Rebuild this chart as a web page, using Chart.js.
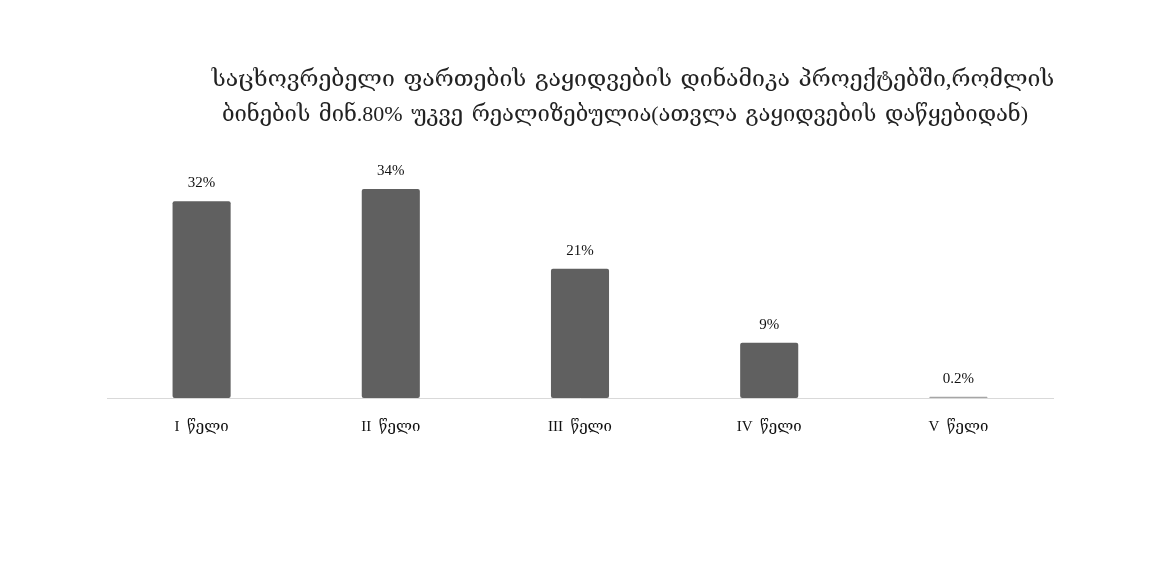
<!DOCTYPE html>
<html>
<head>
<meta charset="utf-8">
<script src="https://cdn.jsdelivr.net/npm/chart.js@4.4.1/dist/chart.umd.min.js"></script>
<style>
  html, body { margin: 0; padding: 0; background: #fff; }
  #wrap { position: relative; width: 1170px; height: 585px; }
  #title {
    position: absolute; left: 0; top: 61px; width: 1266px;
    text-align: center; font-family: "Liberation Serif", "DejaVu Serif", serif;
    font-size: 23px; line-height: 35px; word-spacing: 3px; color: #222;
  }
  #title span { font-size: 22px; margin-right: 16px; }
</style>
</head>
<body>
<div id="wrap">
  <div id="title">საცხოვრებელი ფართების გაყიდვების დინამიკა პროექტებში,რომლის<br><span>ბინების მინ.80% უკვე რეალიზებულია(ათვლა გაყიდვების დაწყებიდან)</span></div>
  <canvas id="chart" width="1170" height="585"></canvas>
</div>
<script>
/* --------------- Data --------------------- */
const years = ["I  წელი", "II  წელი", "III  წელი", "IV  წელი", "V  წელი"];
const shares = [32, 34, 21, 9, 0.2];
const barColors = ["#606060", "#606060", "#606060", "#606060", "#a6a6a6"];

const serif = '"Liberation Serif", "DejaVu Serif", serif';

/* --------------- Value labels above bars --------------------- */
const valueLabels = {
  id: "valueLabels",
  afterDatasetsDraw(chart) {
    const ctx = chart.ctx;
    const meta = chart.getDatasetMeta(0);
    ctx.save();
    ctx.font = "15px " + serif;
    ctx.fillStyle = "#111";
    ctx.textAlign = "center";
    ctx.textBaseline = "middle";
    meta.data.forEach((bar, i) => {
      ctx.fillText(shares[i] + "%", bar.x, bar.y - 18);
    });
    ctx.restore();
  },
};

new Chart(document.getElementById("chart"), {
  type: "bar",
  plugins: [valueLabels],
  data: {
    labels: years,
    datasets: [{
      data: shares,
      backgroundColor: barColors,
      borderRadius: 2,
      borderSkipped: false,
      barPercentage: 1,
      categoryPercentage: 0.307,
    }],
  },
  options: {
    responsive: false,
    animation: false,
    layout: { padding: { left: 107, right: 117, top: 152, bottom: 137 } },
    plugins: { legend: { display: false }, tooltip: { enabled: false } },
    scales: {
      y: { display: false, min: 0, max: 40 },
      x: {
        grid: { display: false },
        border: { display: true, color: "#d9d9d9", width: 1 },
        ticks: { color: "#111", font: { family: serif, size: 15 }, padding: 12 },
        afterFit(scale) { scale.height = 50; },
      },
    },
  },
});
</script>
</body>
</html>
